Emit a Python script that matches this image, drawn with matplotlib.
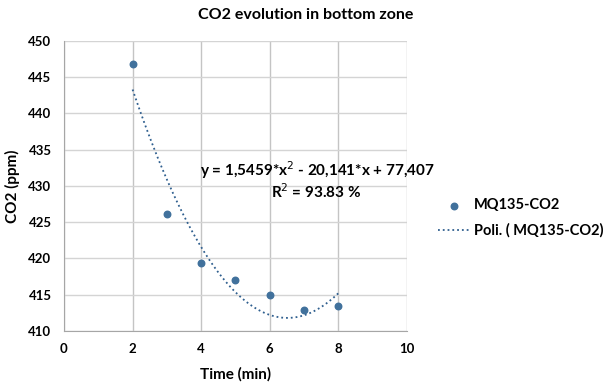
import numpy as np
import matplotlib.pyplot as plt

plt.rcParams['font.family'] = ['Lato', 'DejaVu Sans']

# data
time_min = [2, 3, 4, 5, 6, 7, 8]
co2_ppm = [446.8, 426.2, 419.4, 417.0, 415.0, 412.9, 413.4]
# trendline coefficients (shown on chart, constant term incl. the hidden 4)
coef = [1.5459, -20.141, 477.407]

fig = plt.figure(figsize=(6.11, 3.9), dpi=100)
ax = fig.add_axes([0.1047, 0.1513, 0.5614, 0.7436])

xs = np.linspace(min(time_min), max(time_min), 200)
trend, = ax.plot(xs, np.polyval(coef, xs), ':', color='#2f5f8f', lw=1.3,
                 label='Poli. ( MQ135-CO2)', zorder=3)
pts = ax.scatter(time_min, co2_ppm, s=22, color='#41719c', label='MQ135-CO2', zorder=4)

ax.set_xlim(0, 10)
ax.set_ylim(410, 450)
ax.set_xticks(range(0, 11, 2))
ax.set_yticks(range(410, 451, 5))
ax.grid(True, axis='x', color='#c4c4c4', lw=1)
ax.grid(True, axis='y', color='#d4d4d4', lw=1)
ax.set_axisbelow(True)
for s in ['top', 'right']:
    ax.spines[s].set_visible(False)
for s in ['left', 'bottom']:
    ax.spines[s].set_color('#a6a6a6')
ax.tick_params(length=0, labelsize=9.5, pad=9)
for lab in ax.get_xticklabels() + ax.get_yticklabels():
    lab.set_fontweight('bold')

ax.set_xlabel('Time (min)', fontsize=11, fontweight='bold', labelpad=8)
ax.set_ylabel('CO2 (ppm)', fontsize=11, fontweight='bold', labelpad=6)
fig.text(0.5, 0.962, 'CO2 evolution in bottom zone', ha='center', va='center',
         fontsize=11.5, fontweight='bold')

ax.text(7.4, 432.2, 'y = 1,5459*x$^2$ - 20,141*x + 77,407', ha='center', va='center',
        fontsize=11, fontweight='bold')
ax.text(7.35, 429.2, 'R$^2$ = 93.83 %', ha='center', va='center',
        fontsize=11, fontweight='bold')

fig.legend([pts, trend], ['MQ135-CO2', 'Poli. ( MQ135-CO2)'],
           loc='upper left', bbox_to_anchor=(0.695, 0.525), frameon=False,
           prop={'size': 10.5, 'weight': 'bold'}, handlelength=2.2,
           labelspacing=0.75, handletextpad=0.3)

fig.savefig('out.png', dpi=100)
